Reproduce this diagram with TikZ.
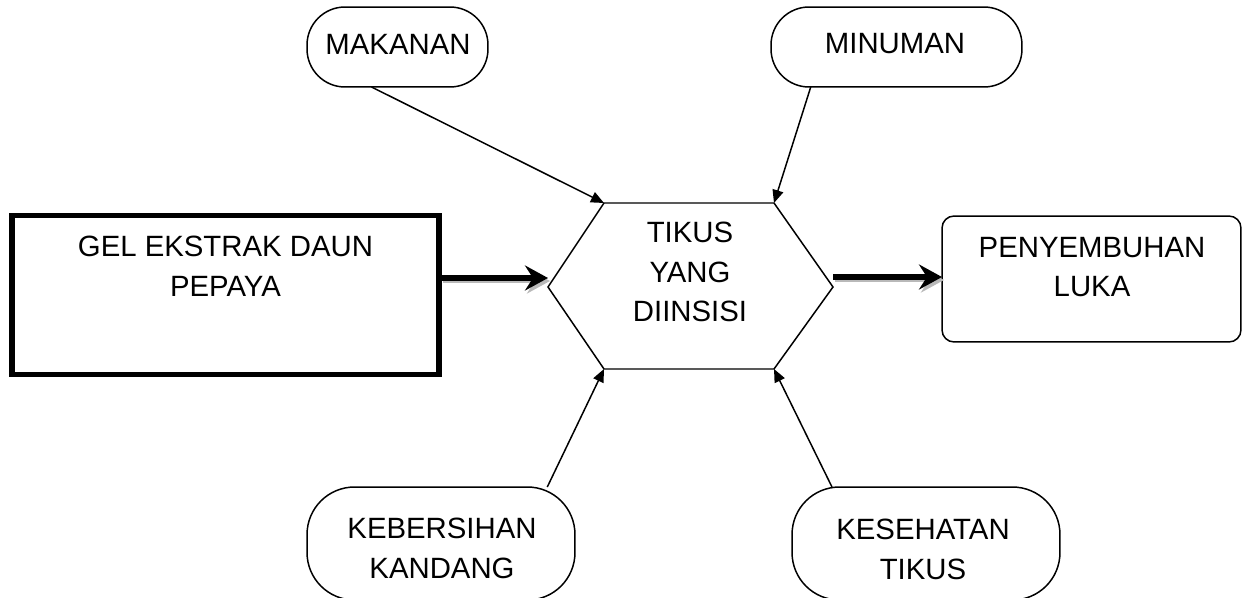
\documentclass[tikz,border=0pt]{standalone}
\usepackage{fontspec}
\setmainfont{Liberation Sans}
\usetikzlibrary{arrows.meta}
\begin{document}
\begin{tikzpicture}[x=0.02cm,y=-0.02cm,
  lbl/.style={font=\fontsize{16.7}{22.7}\selectfont, align=center, inner sep=0pt},
  shapebox/.style={draw, line width=0.85pt, inner sep=0pt, outer sep=0pt},
  pill/.style={shapebox, rounded corners=0.76cm},
  bigpill/.style={shapebox, rounded corners=0.95cm},
  thinarrow/.style={line width=0.85pt, -{Triangle[length=0.26cm,width=0.22cm]}},
  thickarrow/.style={line width=3.1pt, -{Stealth[length=0.46cm,width=0.5cm,inset=0.16cm]}},
  shadowarrow/.style={line width=2.4pt, gray!55, -{Stealth[length=0.46cm,width=0.5cm,inset=0.16cm]}}
]
\useasboundingbox (0,0) rectangle (1244,598);
\clip (0,0) rectangle (1244,598);

% shapes
\node[shapebox, line width=3.1pt, minimum width=8.54cm, minimum height=3.18cm] (gel) at (225.5,295) {};
\node[lbl] (geltext) at (225.5,266) {GEL EKSTRAK DAUN\\PEPAYA};

\node[shapebox, rounded corners=0.24cm, minimum width=5.98cm, minimum height=2.52cm] (pen) at (1091.5,279) {};
\node[lbl] (pentext) at (1092,267) {PENYEMBUHAN\\LUKA};

\node[pill, minimum width=3.62cm, minimum height=1.6cm] (mak) at (397.5,47) {};
\node[lbl] (maktext) at (398,44) {MAKANAN};

\node[pill, minimum width=5.02cm, minimum height=1.6cm] (min) at (896.5,47) {};
\node[lbl] (mintext) at (895,44) {MINUMAN};

\node[bigpill, minimum width=5.36cm, minimum height=2.26cm] (keb) at (441,543.5) {};
\node[lbl] (kebtext) at (442,548) {KEBERSIHAN\\KANDANG};

\node[bigpill, minimum width=5.36cm, minimum height=2.26cm] (kes) at (926,543.5) {};
\node[lbl] (kestext) at (923,549) {KESEHATAN\\TIKUS};

% hexagon
\coordinate (hl) at (548,287);
\coordinate (htl) at (604,203);
\coordinate (htr) at (774,203);
\coordinate (hr) at (833,287);
\coordinate (hbr) at (774,369);
\coordinate (hbl) at (604,369);
\draw[line width=0.85pt, line join=miter] (hl) -- (htl) -- (htr) -- (hr) -- (hbr) -- (hbl) -- cycle;
\node[lbl] (hex) at (690,272) {TIKUS\\YANG\\DIINSISI};

% connection points for the thick arrows
\coordinate (hin) at (548,278);
\coordinate (hout) at (833,277);
\coordinate (gelout) at (441,278);
\coordinate (penin) at (942,277);

% thick arrows with shadow
\draw[shadowarrow] ([shift={(2,3)}]gelout) -- ([shift={(2,3)}]hin);
\draw[thickarrow] (gelout) -- (hin);
\draw[shadowarrow] ([shift={(2,3)}]hout) -- ([shift={(2,3)}]penin);
\draw[thickarrow] (hout) -- (penin);

% thin arrows
\draw[thinarrow] (mak.237.5) -- (htl);
\draw[thinarrow] (min.205.3) -- (htr);
\draw[thinarrow] (keb.28.1) -- (hbl);
\draw[thinarrow] (kes.149) -- (hbr);
\end{tikzpicture}
\end{document}
